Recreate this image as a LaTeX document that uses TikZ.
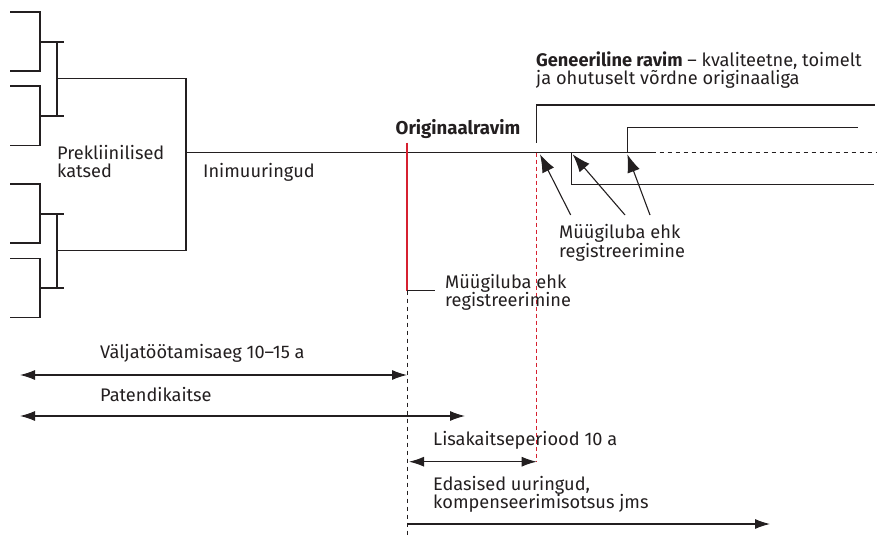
\documentclass[tikz,border=0pt]{standalone}
\usepackage{fontspec}
\setmainfont{Fira Sans}
\usetikzlibrary{arrows.meta}
\definecolor{regred}{RGB}{214,32,48}
\definecolor{ink}{RGB}{35,31,32}
\tikzset{
  >={Latex[length=15pt,width=10pt]},
  x=1pt, y=-1pt,
}
\tikzstyle{tree}=[line width=1.1pt, ink]
\tikzstyle{span}=[line width=1.1pt, ink, <->]
\tikzstyle{pointer}=[line width=1.1pt, ink, {Latex[length=18pt,width=13pt]}-]
\tikzstyle{marker}=[line width=1pt, dash pattern=on 4pt off 4pt]
\tikzstyle{every node}=[font=\fontsize{18.2}{18.3}\selectfont, inner sep=0pt, text=ink]
\tikzstyle{lbl}=[anchor=base west, align=left]

\begin{document}
\begin{tikzpicture}
    \useasboundingbox (0,0) rectangle (877,537);
    % preclinical tree
    \coordinate (a1) at (10,12);   \coordinate (a2) at (10,71);
    \coordinate (a3) at (10,86);   \coordinate (a4) at (10,145.7);
    \coordinate (a5) at (10,184);  \coordinate (a6) at (10,243);
    \coordinate (a7) at (10,258.7);\coordinate (a8) at (10,317.7);
    \draw[tree] (a1) -| (40,71) -- (a2);
    \draw[tree] (a3) -| (40,145.7) -- (a4);
    \draw[tree] (a5) -| (40,243) -- (a6);
    \draw[tree] (a7) -| (40,317.7) -- (a8);
    \draw[tree] (40,42) -- (64,42) (40,116) -- (64,116);
    \draw[tree] (40,214) -- (64,214) (40,288) -- (64,288);
    \draw[tree] (57,42) -- (57,116) (57,214) -- (57,288);
    \draw[tree] (57,78.5) -| (186,250.7) -- (57,250.7);
    \node[lbl] (prekl) at (57,178) {Prekliinilised\\katsed};
    \node[lbl] (inim) at (203,178) {Inimuuringud};
    % main line
    \coordinate (m0) at (186,152.7);
    \coordinate (orig) at (407.3,152.7);
    \coordinate (gen) at (536.7,152.7);
    \coordinate (g2) at (571.7,152.7);
    \coordinate (g3) at (627.3,152.7);
    \coordinate (mend) at (651.7,152.7);
    \coordinate (mdash) at (877,152.7);
    \draw[tree] (m0) -- (mend);
    \draw[tree, dash pattern=on 4pt off 4pt] (mend) -- (mdash);
    % generics
    \draw[tree] (536.7,143) |- (875,105);
    \draw[tree] (g3) |- (857.7,127.7);
    \draw[tree] (g2) |- (874,184.3);
    \node[font=\fontsize{18.6}{18.3}\selectfont\bfseries, anchor=base] (origlbl) at (458,135) {Originaalravim};
    \node[lbl] (genlbl) at (536,84.5) {\textbf{Geneeriline ravim} -- kvaliteetne, toimelt\\ja ohutuselt võrdne originaaliga};
    % approvals
    \draw[regred, line width=2.2pt] (407.3,142.7) coordinate (r0) -- (407.3,290.7) coordinate (r1);
    \draw[tree] (r1) -- (435,290.7);
    \draw[marker, ink] (r1) -- (407.3,537) coordinate (bot);
    \draw[marker, regred, dash pattern=on 4pt off 3pt] (gen) -- (536.7,461) coordinate (gbot);
    \node[lbl] (mlub1) at (445,306.7) {Müügiluba ehk\\registreerimine};
    \node[lbl] (mlub2) at (559,257.3) {Müügiluba ehk\\registreerimine};
    \draw[pointer] (540,154.3) -- (570.7,215);
    \draw[pointer] (572.7,154.3) -- (625,215);
    \draw[pointer] (627.3,154.3) -- (650,215);
    % periods
    \node[lbl] (valj) at (100,358.3) {Väljatöötamisaeg 10--15 a};
    \draw[span] (20,375) -- (407,375);
    \node[lbl] (pat) at (100,401.7) {Patendikaitse};
    \draw[span] (20,416) -- (465,416);
    \node[lbl] (lisa) at (433,445) {Lisakaitseperiood 10 a};
    \draw[span] (409,461.7) -- (536.7,461.7);
    \node[lbl] (edas) at (433,508.3) {Edasised uuringud,\\kompenseerimisotsus jms};
    \draw[tree, ->] (407.3,524) -- (770,524);
\end{tikzpicture}
\end{document}
